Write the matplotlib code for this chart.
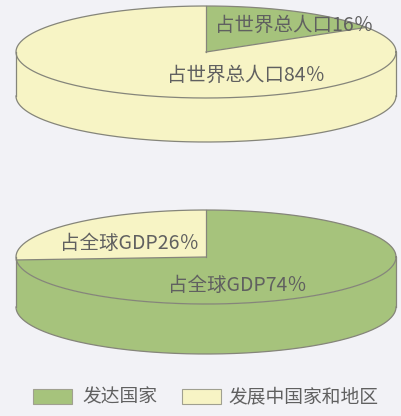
"""Two flat 3D pies: population and GDP share, developed vs developing."""
import matplotlib

matplotlib.use("Agg")

import matplotlib.pyplot as plt
import numpy as np
from matplotlib.patches import Polygon, Rectangle

plt.rcParams["font.family"] = ["Noto Sans CJK SC", "DejaVu Sans"]

SERIES = ["发达国家", "发展中国家和地区"]
POPULATION_SHARE = [16, 84]
GDP_SHARE = [74, 26]
POPULATION_LABELS = ["占世界总人口16％", "占世界总人口84％"]
GDP_LABELS = ["占全球GDP74％", "占全球GDP26％"]

GREEN = "#a6c37c"
YELLOW = "#f7f4c5"
COLORS = [GREEN, YELLOW]
EDGE = "#85857a"
TEXT = "#606060"
BG = "#f2f2f6"

W, H = 402, 416


def ellipse_pts(cx, cy, a, b, theta_deg, dy=0.0):
    t = np.radians(theta_deg)
    return np.column_stack([cx + a * np.cos(t), cy - b * np.sin(t) + dy])


def draw_pie(ax, values, labels, label_xy, cx, cy, a, b, depth):
    values = np.asarray(values, dtype=float)
    frac = values / values.sum()
    bounds = 90 - 360 * np.concatenate([[0], np.cumsum(frac)])

    # side wall (only the front half, angles between -180 and 0)
    for i, color in enumerate(COLORS):
        hi, lo = bounds[i], bounds[i + 1]
        lo_f, hi_f = max(lo, -180), min(hi, 0)
        if hi_f <= lo_f:
            continue
        th = np.linspace(lo_f, hi_f, 120)
        top = ellipse_pts(cx, cy, a, b, th)
        bot = ellipse_pts(cx, cy, a, b, th, dy=depth)[::-1]
        ax.add_patch(Polygon(np.vstack([top, bot]), closed=True, facecolor=color,
                             edgecolor="none", zorder=1))

    # top face wedges
    for i, color in enumerate(COLORS):
        hi, lo = bounds[i], bounds[i + 1]
        th = np.linspace(hi, lo, 200)
        pts = np.vstack([[cx, cy], ellipse_pts(cx, cy, a, b, th)])
        ax.add_patch(Polygon(pts, closed=True, facecolor=color,
                             edgecolor="none", zorder=2))

    # outlines
    full = ellipse_pts(cx, cy, a, b, np.linspace(0, 360, 400))
    ax.plot(full[:, 0], full[:, 1], color=EDGE, lw=0.9, zorder=3)
    front = ellipse_pts(cx, cy, a, b, np.linspace(-180, 0, 200), dy=depth)
    ax.plot(front[:, 0], front[:, 1], color=EDGE, lw=0.9, zorder=3)
    for th in (-180, 0):
        p = ellipse_pts(cx, cy, a, b, [th])[0]
        ax.plot([p[0], p[0]], [p[1], p[1] + depth], color=EDGE, lw=0.9, zorder=3)
    for th in bounds[:-1]:
        p = ellipse_pts(cx, cy, a, b, [th])[0]
        ax.plot([cx, p[0]], [cy, p[1]], color=EDGE, lw=0.9, zorder=3)

    for text, (x, y) in zip(labels, label_xy):
        ax.text(x, y, text, ha="left", va="center", fontsize=14,
                color=TEXT, zorder=4)


fig = plt.figure(figsize=(W / 100, H / 100), dpi=100, facecolor=BG)
ax = fig.add_axes([0, 0, 1, 1])
ax.set_xlim(0, W)
ax.set_ylim(H, 0)
ax.axis("off")
ax.set_facecolor(BG)

draw_pie(ax, POPULATION_SHARE, POPULATION_LABELS, [(215, 25), (167, 75)],
         cx=206, cy=52, a=190, b=46, depth=44)
draw_pie(ax, GDP_SHARE, GDP_LABELS, [(168, 285), (60, 243)],
         cx=206, cy=257, a=190, b=47, depth=50)

# legend
for name, color, px, tx in zip(SERIES, COLORS, [33, 182], [82, 228]):
    ax.add_patch(Rectangle((px, 389), 39, 15, facecolor=color,
                           edgecolor="#a0a090", lw=0.8))
    ax.text(tx, 396.5, name, ha="left", va="center", fontsize=13.5, color=TEXT)

fig.savefig("out.png", dpi=100, facecolor=BG)
